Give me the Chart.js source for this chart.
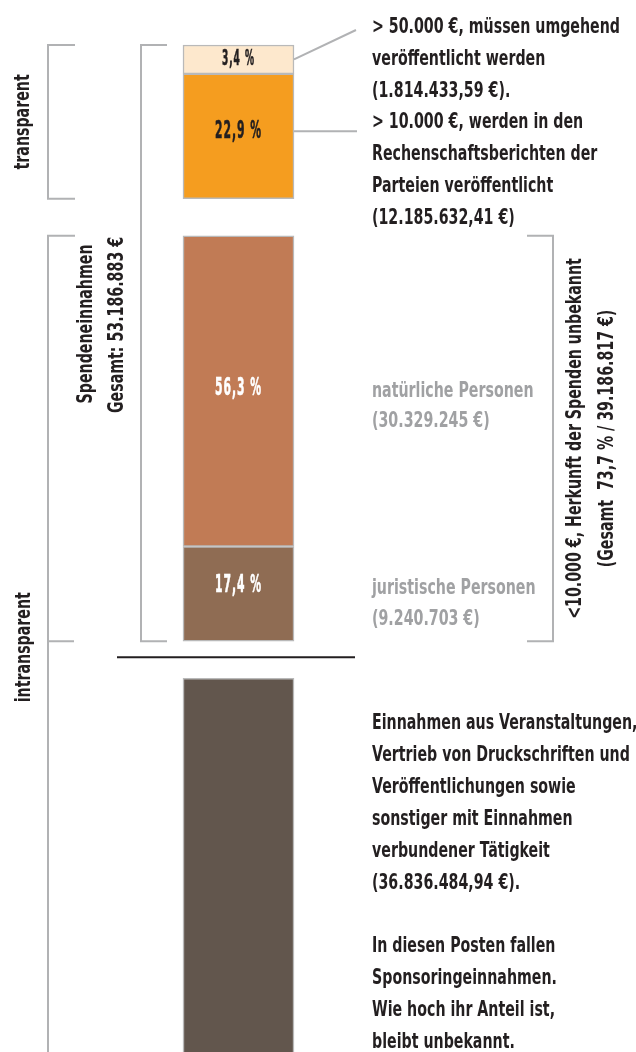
<!DOCTYPE html>
<html>
<head>
<meta charset="utf-8">
<script src="https://cdn.jsdelivr.net/npm/chart.js@4"></script>
<style>
    html, body { margin: 0; padding: 0; background: #fff; }
    .wrap { position: relative; width: 636px; height: 1052px; }
</style>
</head>
<body>
<div class="wrap"><canvas id="spendenChart"></canvas></div>
<script>
// Data
const segmentNames = ['> 50.000 €', '> 10.000 €', 'natürliche Personen', 'juristische Personen', 'Veranstaltungen, Druckschriften u. a.'];
const amounts = [1814433.59, 12185632.41, 30329245, 9240703, 36836484.94];
const shareLabels = ['3,4 %', '22,9 %', '56,3 %', '17,4 %', ''];
const totalDonations = 53186883;
const unknownShare = '73,7 %';
const unknownTotal = '39.186.817 €';

// Styles / layout
const segColors = ['#fde8cd', '#f59d1f', '#c17b55', '#8f6c53', '#62564d'];
const labelColors = ['#231f20', '#231f20', '#ffffff', '#ffffff', '#ffffff'];
const labelSizes = [21, 25, 25, 25, 25];
const labelDy = [0, -5, -3, -8, 0];
const gapBefore = [0, 0, 37, 0, 37];   // px between segments
const PX = 5.45;                        // px per percent
const TOP = 45;
const MIN_SEG = 5.3;                    // smallest drawn segment, in percent units
const FACE = '"DejaVu Sans Condensed", "DejaVu Sans", sans-serif';
const GREY = '#b1b2b4';
let SX = 1;                             // horizontal squeeze for captions
let LX = 1;                             // horizontal squeeze for bar labels

// shares in percent of all donations, stacked top-down with gaps
const shares = amounts.map(a => a / totalDonations * 100);
const ranges = [];
let pos = 0;
shares.forEach((s, i) => {
    pos += gapBefore[i] / PX;
    const h = Math.max(s, MIN_SEG);
    ranges.push([pos, pos + h]);
    pos += h;
});

const datasets = ranges.map((r, i) => ({
    label: segmentNames[i],
    data: [r],
    backgroundColor: segColors[i],
    borderColor: '#b9b9b9',
    borderWidth: 1.5,
    borderSkipped: false,
    grouped: false,
    barThickness: 111
}));

function txt(ctx, s, x, y, opts) {
    opts = opts || {};
    ctx.save();
    ctx.translate(x, y);
    if (opts.rotate) ctx.rotate(-Math.PI / 2);
    ctx.scale(opts.sx || SX, 1);
    ctx.font = 'bold ' + (opts.size || 21) + 'px ' + FACE;
    if (opts.spacing) ctx.letterSpacing = opts.spacing;
    ctx.fillStyle = opts.color || '#231f20';
    ctx.textAlign = opts.align || 'left';
    ctx.textBaseline = opts.baseline || 'alphabetic';
    ctx.fillText(s, 0, 0);
    if (opts.heavy) {
        // thicken the squeezed strokes a little
        ctx.strokeStyle = ctx.fillStyle;
        ctx.lineWidth = opts.heavy;
        ctx.strokeText(s, 0, 0);
    }
    ctx.restore();
}

function vtxt(ctx, s, x, y) {
    txt(ctx, s, x, y, { rotate: true, align: 'center', baseline: 'middle' });
}

function bracket(ctx, x, y1, y2, dx) {
    ctx.beginPath();
    ctx.moveTo(x + dx, y1);
    ctx.lineTo(x, y1);
    ctx.lineTo(x, y2);
    ctx.lineTo(x + dx, y2);
    ctx.stroke();
}

const annotations = {
    id: 'annotations',
    afterDatasetsDraw(chart) {
        const ctx = chart.ctx;
        const y = chart.scales.y;
        const top = ranges.map(r => y.getPixelForValue(r[0]));
        const bot = ranges.map(r => y.getPixelForValue(r[1]));
        const bar = chart.getDatasetMeta(0).data[0];
        const right = bar.x + bar.width / 2;
        const mid = i => (top[i] + bot[i]) / 2 + labelDy[i];

        // condense the face: caption line ~248px, bar label ~47px wide
        ctx.save();
        ctx.font = 'bold 21px ' + FACE;
        SX = 248 / ctx.measureText('> 50.000 €, müssen umgehend').width;
        ctx.font = 'bold 25px ' + FACE;
        ctx.letterSpacing = '2px';
        LX = 47 / ctx.measureText('56,3 %').width;
        ctx.restore();

        // labels inside the bar
        shareLabels.forEach((l, i) => {
            if (l) txt(ctx, l, bar.x, mid(i), { color: labelColors[i], size: labelSizes[i], sx: LX, spacing: '2px', heavy: 0.6, align: 'center', baseline: 'middle' });
        });

        ctx.save();
        ctx.strokeStyle = GREY;
        ctx.lineWidth = 2;
        // transparent / intransparent
        bracket(ctx, 48, top[0], bot[1], 27);
        ctx.beginPath();
        ctx.moveTo(75, top[2]); ctx.lineTo(48, top[2]); ctx.lineTo(48, chart.height);
        ctx.moveTo(48, bot[3]); ctx.lineTo(74, bot[3]);
        ctx.stroke();
        // Spendeneinnahmen
        bracket(ctx, 141, top[0], bot[3], 26);
        // < 10.000 €
        bracket(ctx, 553, top[2], bot[3], -26);
        // connectors
        ctx.beginPath();
        ctx.moveTo(right, mid(0)); ctx.lineTo(356, 30);
        ctx.moveTo(right, mid(1)); ctx.lineTo(357, mid(1));
        ctx.stroke();
        // divider
        ctx.strokeStyle = '#231f20';
        ctx.beginPath();
        ctx.moveTo(117, bot[3] + 16); ctx.lineTo(355, bot[3] + 16);
        ctx.stroke();
        ctx.restore();

        vtxt(ctx, 'transparent', 24, (top[0] + bot[1]) / 2);
        vtxt(ctx, 'intransparent', 25, bot[3] + 6);
        vtxt(ctx, 'Spendeneinnahmen', 87, 324);
        vtxt(ctx, 'Gesamt: ' + totalDonations.toLocaleString('de-DE') + ' €', 118, 325);
        vtxt(ctx, '<10.000 €, Herkunft der Spenden unbekannt', 576, (top[2] + bot[3]) / 2);
        vtxt(ctx, '(Gesamt  ' + unknownShare + ' / ' + unknownTotal + ')', 608, (top[2] + bot[3]) / 2);

        const fmt = v => v.toLocaleString('de-DE', { minimumFractionDigits: 2, maximumFractionDigits: 2 });
        const topLines = [
            '> 50.000 €, müssen umgehend',
            'veröffentlicht werden',
            '(' + fmt(amounts[0]) + ' €).',
            '> 10.000 €, werden in den',
            'Rechenschaftsberichten der',
            'Parteien veröffentlicht',
            '(' + fmt(amounts[1]) + ' €)'
        ];
        topLines.forEach((l, k) => txt(ctx, l, 372, 33 + k * 31.8));

        const grey = { color: '#a0a1a3' };
        txt(ctx, segmentNames[2], 372, mid(2) + 9, grey);
        txt(ctx, '(' + amounts[2].toLocaleString('de-DE') + ' €)', 372, mid(2) + 39, grey);
        txt(ctx, segmentNames[3], 372, mid(3) + 8, grey);
        txt(ctx, '(' + amounts[3].toLocaleString('de-DE') + ' €)', 372, mid(3) + 39, grey);

        const bottomLines = [
            'Einnahmen aus Veranstaltungen,',
            'Vertrieb von Druckschriften und',
            'Veröffentlichungen sowie',
            'sonstiger mit Einnahmen',
            'verbundener Tätigkeit',
            '(' + fmt(amounts[4]) + ' €).',
            '',
            'In diesen Posten fallen',
            'Sponsoringeinnahmen.',
            'Wie hoch ihr Anteil ist,',
            'bleibt unbekannt.'
        ];
        bottomLines.forEach((l, k) => { if (l) txt(ctx, l, 372, 729 + k * 31.9); });
    }
};

function initChart() {
    const ctx = document.getElementById('spendenChart').getContext('2d');
    new Chart(ctx, {
        type: 'bar',
        data: { labels: [''], datasets: datasets },
        options: {
            responsive: true,
            maintainAspectRatio: false,
            animation: false,
            layout: { padding: { left: 0, right: 159, top: 0, bottom: 0 } },
            plugins: { legend: { display: false }, tooltip: { enabled: false } },
            scales: {
                x: { display: false },
                y: { display: false, reverse: true, min: -TOP / PX, max: (1052 - TOP) / PX }
            }
        },
        plugins: [annotations]
    });
}

document.addEventListener('DOMContentLoaded', initChart);
</script>
</body>
</html>
